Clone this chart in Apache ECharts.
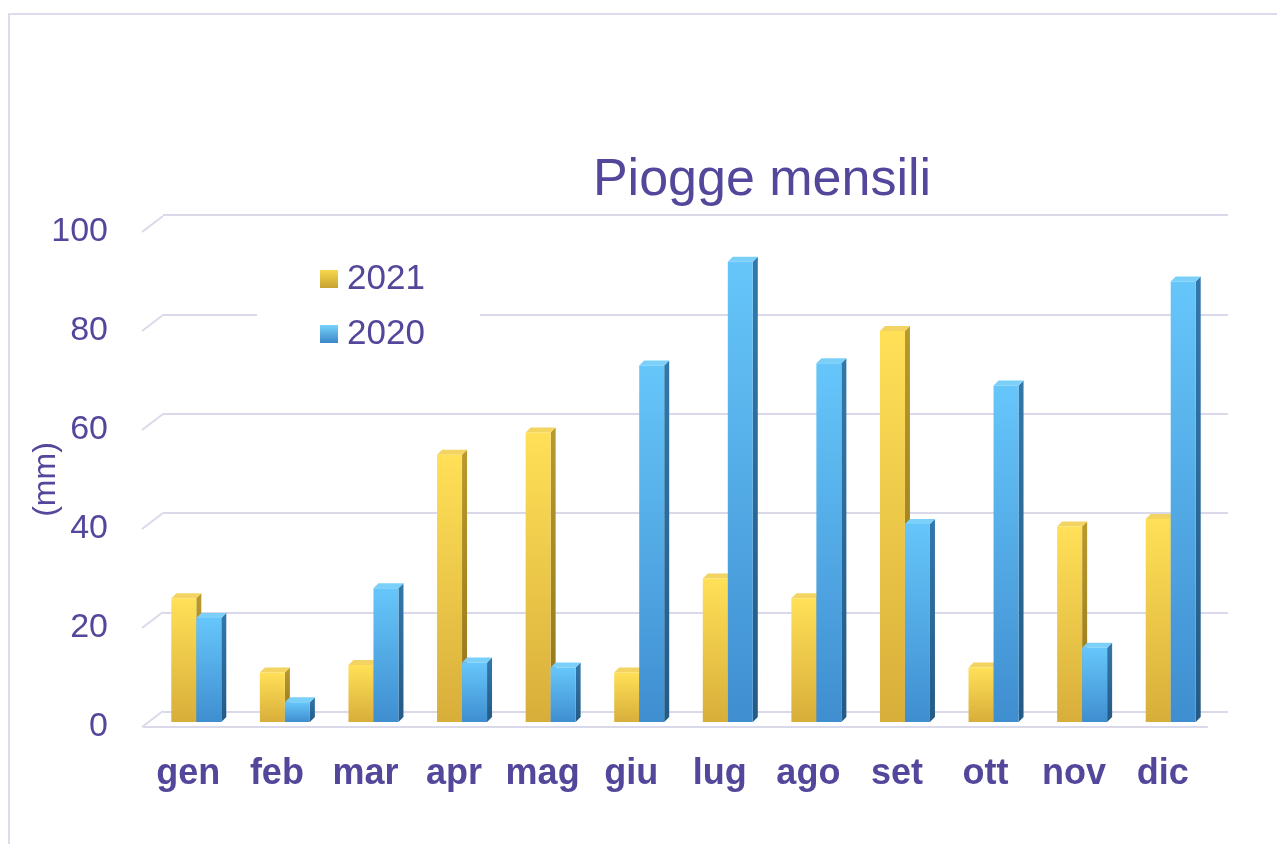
<!DOCTYPE html>
<html>
<head>
<meta charset="UTF-8">
<title>Piogge mensili</title>
<script src="https://cdn.jsdelivr.net/npm/echarts@6/dist/echarts.min.js"></script>
<style>
html, body { margin: 0; padding: 0; background: #fff; }
#chart { width: 1277px; height: 844px; }
</style>
</head>
<body>
<div id="chart"></div>
<script>
// dati (mm)
var mesi = ['gen', 'feb', 'mar', 'apr', 'mag', 'giu', 'lug', 'ago', 'set', 'ott', 'nov', 'dic'];
var pioggia2021 = [25, 10, 11.5, 54, 58.5, 10, 29, 25, 79, 11, 39.5, 41];
var pioggia2020 = [21, 4, 27, 12, 11, 72, 93, 72.5, 40, 68, 15, 89];
var tickValori = [0, 20, 40, 60, 80, 100];

var viola = '#52479a';

// colori delle facce (fronte, lato, cima)
var stili = [
    { fronte: ['#ffe057', '#d8ae3a'], lato: ['#b99a2c', '#927418'], cima: '#f3d462', legenda: ['#f7d84c', '#c9a230'] },
    { fronte: ['#66c6fa', '#3f8ed0'], lato: ['#3378ab', '#245a86'], cima: '#7bd0fa', legenda: ['#79d3fb', '#3a86c8'] }
];

function grad(c) {
    return new echarts.graphic.LinearGradient(0, 0, 0, 1, [
        { offset: 0, color: c[0] }, { offset: 1, color: c[1] }
    ]);
}

// barra "3D": faccia frontale + lato destro + cima
function disegnaBarra(params, api) {
    var s = stili[params.seriesIndex];
    var base = api.coord([api.value(0), 0]);
    var cima = api.coord([api.value(0), api.value(1)]);
    var w = 25, d = 5, off = 8, su = -5;
    var x0 = base[0] + off + (params.seriesIndex === 0 ? -w : 0);
    var y0 = base[1] + su, y1 = cima[1] + su;
    return {
        type: 'group',
        children: [
            { type: 'polygon', shape: { points: [[x0 + w, y1], [x0 + w + d, y1 - d], [x0 + w + d, y0 - d], [x0 + w, y0]] },
              style: { fill: grad(s.lato) } },
            { type: 'polygon', shape: { points: [[x0, y1], [x0 + d, y1 - d], [x0 + w + d, y1 - d], [x0 + w, y1]] },
              style: { fill: s.cima } },
            { type: 'rect', shape: { x: x0, y: y1, width: w, height: y0 - y1 },
              style: { fill: grad(s.fronte) } }
        ]
    };
}

// linee oblique sul lato sinistro della parete
function disegnaObliqua(params, api) {
    var p = api.coord([0, api.value(0)]);
    var x = params.coordSys.x - 2;
    return {
        type: 'line',
        shape: { x1: x, y1: p[1], x2: x + 21, y2: p[1] - 16 },
        style: { stroke: '#d9d9ea', lineWidth: 2 }
    };
}

var chart = echarts.init(document.getElementById('chart'));

var option = {
    backgroundColor: '#fff',
    animation: false,
    textStyle: { fontFamily: 'Liberation Sans, Arial, sans-serif' },
    graphic: [{
        type: 'rect', z: -10,
        shape: { x: 9, y: 14, width: 1400, height: 1000 },
        style: { fill: 'none', stroke: '#dcdcec', lineWidth: 2 }
    }],
    title: {
        text: 'Piogge mensili',
        left: 757, top: 150, textAlign: 'center',
        textStyle: { fontSize: 52, fontWeight: 'normal', color: viola, fontFamily: 'Liberation Sans' }
    },
    legend: {
        orient: 'vertical',
        left: 257, top: 257,
        padding: [4, 55, 4, 63],
        backgroundColor: '#fff',
        itemWidth: 18, itemHeight: 18, itemGap: 19,
        icon: 'rect',
        data: ['2021', '2020'],
        textStyle: { fontSize: 35, lineHeight: 36, color: viola, padding: [0, 0, 0, 4] }
    },
    grid: [
        { left: 144, right: 70, top: 232, bottom: 117 },
        { left: 163, right: 49, top: 215, bottom: 132 }
    ],
    xAxis: [{
        type: 'category', gridIndex: 0, data: mesi,
        axisLine: { lineStyle: { color: '#d9d9ea', width: 2 } },
        axisTick: { show: false },
        axisLabel: { interval: 0, fontSize: 36, fontWeight: 'bold', color: viola, margin: 29 }
    }, {
        type: 'category', gridIndex: 1, data: mesi, show: false
    }],
    yAxis: [{
        type: 'value', gridIndex: 0, min: 0, max: 100, interval: 20,
        name: '(mm)', nameLocation: 'middle', nameGap: 82, nameRotate: 90,
        nameMoveOverlap: false,
        nameTextStyle: { fontSize: 32, color: viola },
        axisLine: { show: false }, axisTick: { show: false },
        splitLine: { show: false },
        axisLabel: { fontSize: 34, color: viola, margin: 36 }
    }, {
        type: 'value', gridIndex: 1, min: 0, max: 100, interval: 20,
        axisLine: { show: false }, axisTick: { show: false },
        axisLabel: { show: false },
        splitLine: { lineStyle: { color: '#d9d9ea', width: 2 } }
    }],
    series: [{
        name: '2021', type: 'custom', xAxisIndex: 0, yAxisIndex: 0,
        renderItem: disegnaBarra,
        itemStyle: { color: grad(stili[0].legenda) },
        encode: { x: 0, y: 1 },
        data: pioggia2021.map(function (v, i) { return [i, v]; })
    }, {
        name: '2020', type: 'custom', xAxisIndex: 0, yAxisIndex: 0,
        renderItem: disegnaBarra,
        itemStyle: { color: grad(stili[1].legenda) },
        encode: { x: 0, y: 1 },
        data: pioggia2020.map(function (v, i) { return [i, v]; })
    }, {
        name: 'obliquo', type: 'custom', xAxisIndex: 0, yAxisIndex: 0,
        renderItem: disegnaObliqua, silent: true, z: 1,
        encode: { y: 0 },
        data: tickValori.map(function (v) { return [v]; })
    }]
};

chart.setOption(option);
</script>
</body>
</html>
